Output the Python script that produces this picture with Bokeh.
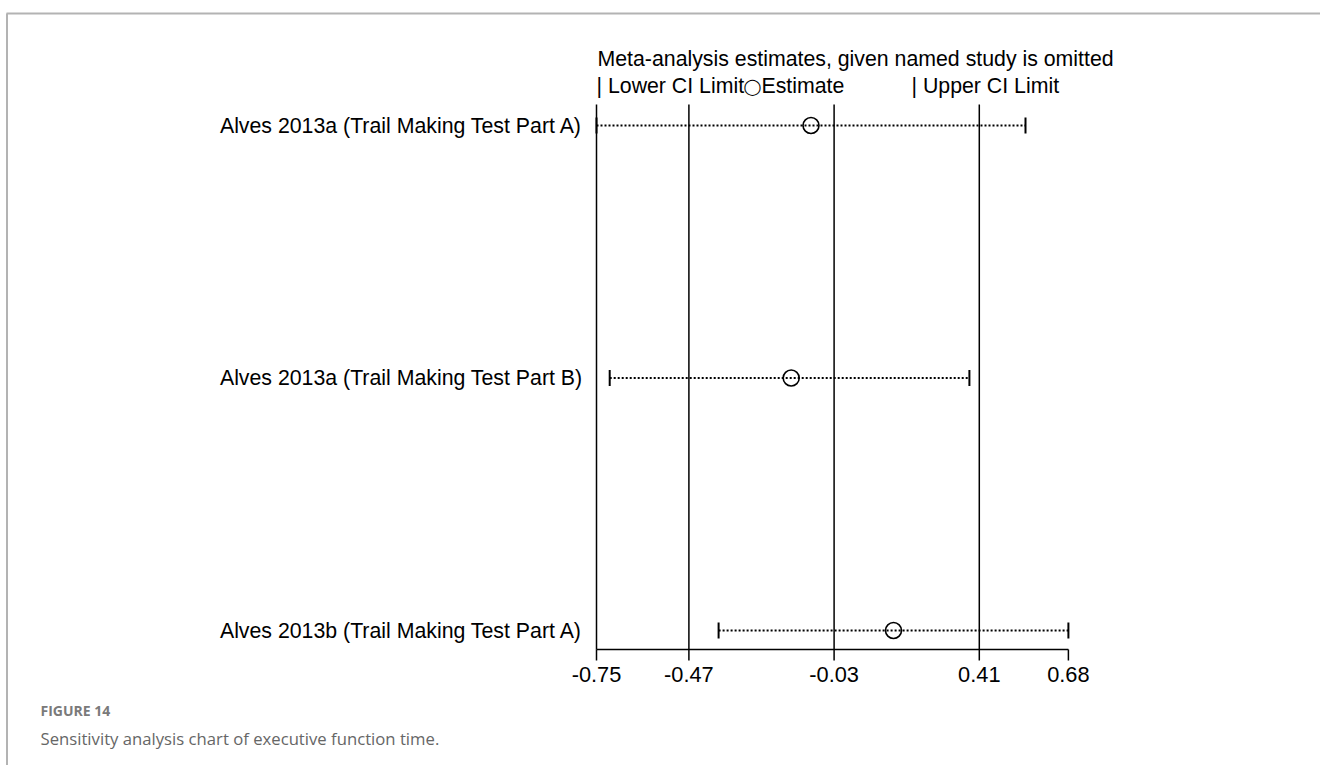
import numpy as np
from bokeh.plotting import figure
from bokeh.models import Range1d
from bokeh.core.properties import value
from bokeh.embed import file_html
from bokeh.resources import INLINE

# ---------------- data ----------------
studies = [
    "Alves 2013a (Trail Making Test Part A)",
    "Alves 2013a (Trail Making Test Part B)",
    "Alves 2013b (Trail Making Test Part A)",
]
lower = [-0.75, -0.71, -0.38]
estimate = [-0.10, -0.16, 0.15]
upper = [0.55, 0.38, 0.68]
tick_values = [-0.75, -0.47, -0.03, 0.41, 0.68]
tick_labels = ["-0.75", "-0.47", "-0.03", "0.41", "0.68"]
ref_lines = [-0.75, -0.47, -0.03, 0.41]
title_text = "Meta-analysis estimates, given named study is omitted"
legend_lower = "| Lower CI Limit"
legend_circle = "\u25ef"
legend_est = "Estimate"
legend_upper = "| Upper CI Limit"
fig_label = "FIGURE 14"
caption = "Sensitivity analysis chart of executive function time."

rows = list(range(len(studies)))

# ---------------- layout (canvas pixels) ----------------
W, H = 1320, 765
X0, SX = 596.0, 330.0      # canvas px of value -0.75, px per unit
Y0, SY = 125.0, 252.5      # canvas px of first row, px per row
xmin = min(tick_values)


def xv(px):
    return xmin + (px - X0) / SX


def yv(py):
    return (py - Y0) / SY


p = figure(
    width=W, height=H,
    x_range=Range1d(xv(0), xv(W)),
    y_range=Range1d(yv(H), yv(0)),
    output_backend="svg", toolbar_location=None,
    x_axis_location=None, y_axis_location=None,
    min_border=0, title=None,
)
p.grid.visible = False
p.outline_line_color = None
p.background_fill_color = "white"
p.border_fill_color = "white"

FONT = value("Liberation Sans")
FS = "21.3px"

# page frame (decorative)
p.segment(x0=[xv(6)], y0=[yv(13)], x1=[xv(W)], y1=[yv(13)], line_color="#b3b3b3", line_width=2)
p.segment(x0=[xv(6.5)], y0=[yv(13)], x1=[xv(6.5)], y1=[yv(H)], line_color="#b3b3b3", line_width=2)

# reference vertical lines
AX_Y = 649
p.segment(x0=ref_lines, y0=[yv(104)] * len(ref_lines), x1=ref_lines, y1=[yv(AX_Y)] * len(ref_lines),
          line_color="black", line_width=1.5)

# x axis
p.segment(x0=[min(tick_values)], y0=[yv(AX_Y)], x1=[max(tick_values)], y1=[yv(AX_Y)],
          line_color="black", line_width=1.5)
p.segment(x0=tick_values, y0=[yv(AX_Y)] * len(tick_values), x1=tick_values,
          y1=[yv(AX_Y + 11)] * len(tick_values), line_color="black", line_width=1.5)
p.text(x=tick_values, y=[yv(674)] * len(tick_values), text=tick_labels,
       text_font=FONT, text_font_size="21.8px", text_align="center", text_baseline="middle",
       text_color="black")

# CI lines
p.segment(x0=lower, y0=rows, x1=upper, y1=rows, line_color="black", line_width=2, line_dash="2 2")
p.scatter(x=lower, y=rows, marker="dash", angle=np.pi / 2, size=16, line_color="black", line_width=2)
p.scatter(x=upper, y=rows, marker="dash", angle=np.pi / 2, size=16, line_color="black", line_width=2)
p.scatter(x=estimate, y=rows, marker="circle", size=16, fill_color="white", fill_alpha=0.0,
          line_color="black", line_width=1.6)

# study labels
p.text(x=[min(tick_values)] * len(rows), y=rows, text=studies, x_offset=-14,
       text_font=FONT, text_font_size=FS, text_align="right", text_baseline="middle",
       text_color="black")

# title & legend
p.text(x=[xv(597)], y=[yv(58)], text=[title_text], text_font=FONT, text_font_size=FS,
       text_align="left", text_baseline="middle", text_color="black")
p.text(x=[xv(596)], y=[yv(85)], text=[legend_lower], text_font=FONT, text_font_size=FS,
       text_align="left", text_baseline="middle", text_color="black")
p.text(x=[xv(752)], y=[yv(86)], text=[legend_circle], text_font=value("DejaVu Sans"),
       text_font_size="16px", text_align="center", text_baseline="middle", text_color="black")
p.text(x=[xv(761)], y=[yv(85)], text=[legend_est], text_font=FONT, text_font_size=FS,
       text_align="left", text_baseline="middle", text_color="black")
p.text(x=[xv(911)], y=[yv(85)], text=[legend_upper], text_font=FONT, text_font_size=FS,
       text_align="left", text_baseline="middle", text_color="black")

# caption
p.text(x=[xv(40)], y=[yv(710)], text=[fig_label], text_font=value("Open Sans"),
       text_font_size="14px", text_font_style="bold", text_align="left", text_baseline="middle",
       text_color="#7a7a7a")
p.text(x=[xv(40)], y=[yv(738)], text=[caption], text_font=value("Open Sans"),
       text_font_size="16.7px", text_align="left", text_baseline="middle", text_color="#666666")

open("out.html", "w").write(file_html(p, INLINE))
